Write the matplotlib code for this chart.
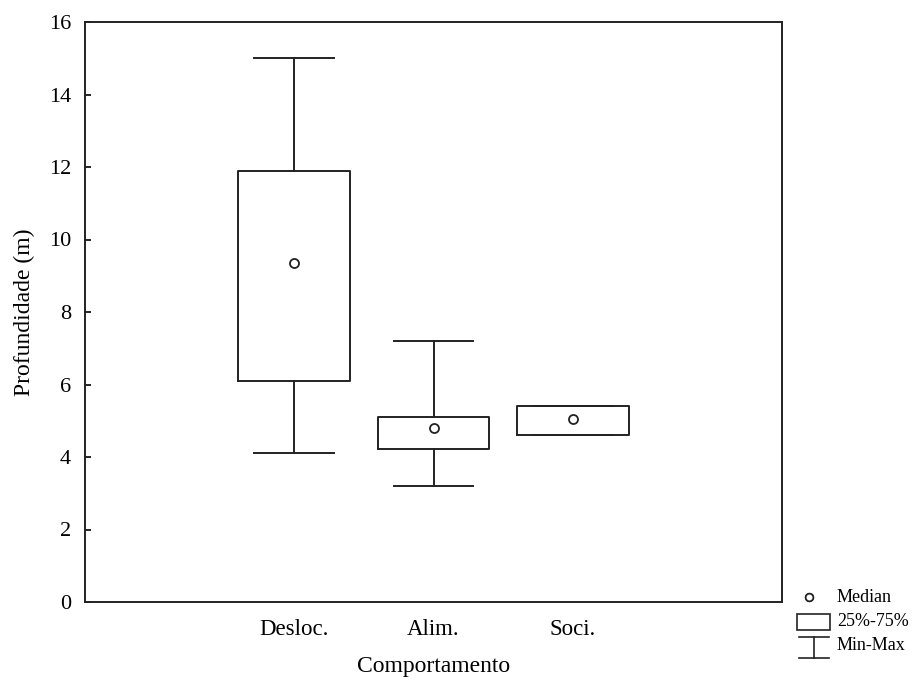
import matplotlib.pyplot as plt
from matplotlib.lines import Line2D
from matplotlib.patches import Rectangle

plt.rcParams['font.family'] = ['Liberation Serif', 'DejaVu Serif']

# depth (m) per behaviour category
categorias = ['Desloc.', 'Alim.', 'Soci.']
minimo = [4.1, 3.2, 4.6]
q1 = [6.1, 4.22, 4.6]
mediana = [9.35, 4.8, 5.05]
q3 = [11.9, 5.1, 5.42]
maximo = [15.0, 7.2, 5.42]

fig = plt.figure(figsize=(9.17, 6.82), dpi=100)
ax = fig.add_axes([85 / 917, 1 - 602 / 682, 697 / 917, 580 / 682])

stats = []
for i, nome in enumerate(categorias):
    stats.append(dict(label=nome, whislo=minimo[i], q1=q1[i], med=mediana[i],
                      q3=q3[i], whishi=maximo[i]))

pos = [1, 2, 3]
lw = 1.4
ax.bxp(stats, positions=pos, widths=0.8, showfliers=False, patch_artist=False,
       boxprops=dict(color='#222222', linewidth=lw),
       whiskerprops=dict(color='#222222', linewidth=lw),
       capprops=dict(color='#222222', linewidth=lw),
       medianprops=dict(linewidth=0),
       capwidths=0.57)
ax.plot(pos, mediana, 'o', mfc='white', mec='#222222', mew=1.3, ms=6.5, zorder=5)

ax.set_xlim(-0.5, 4.5)
ax.set_ylim(0, 16)
ax.set_yticks(range(0, 17, 2))
ax.set_xticks(pos)
ax.set_xticklabels(categorias)
ax.tick_params(direction='in', length=4, width=1.2, labelsize=16, pad=10)
ax.tick_params(axis='x', length=0, pad=12, labelsize=16.5)
for s in ax.spines.values():
    s.set_linewidth(1.4)
    s.set_color('#222222')

ax.set_ylabel('Profundidade (m)', fontsize=17, labelpad=10)
ax.set_xlabel('Comportamento', fontsize=17, labelpad=12)

# legend symbols drawn in pixel space to the right of the plot
def px(x, y):
    return x / 917, 1 - y / 682

kw = dict(transform=fig.transFigure, color='#222222', linewidth=1.2)
fig.add_artist(Line2D(*zip(px(809, 597), px(809, 597)), marker='o', mfc='white',
                      mec='#222222', ms=5.5, mew=1.2, linestyle='none',
                      transform=fig.transFigure))
x0, y0 = px(797, 630)
x1, y1 = px(830, 614)
fig.add_artist(Rectangle((x0, y0), x1 - x0, y1 - y0, fill=False,
                         transform=fig.transFigure, edgecolor='#222222', linewidth=1.2))
fig.add_artist(Line2D(*zip(px(799, 637), px(829, 637)), **kw))
fig.add_artist(Line2D(*zip(px(814, 637), px(814, 658)), **kw))
fig.add_artist(Line2D(*zip(px(799, 658), px(829, 658)), **kw))
for txt, y in [('Median', 598), ('25%-75%', 622), ('Min-Max', 646)]:
    fig.text(*px(837, y), txt, fontsize=13, va='center', ha='left')

fig.savefig('out.png', dpi=100)
